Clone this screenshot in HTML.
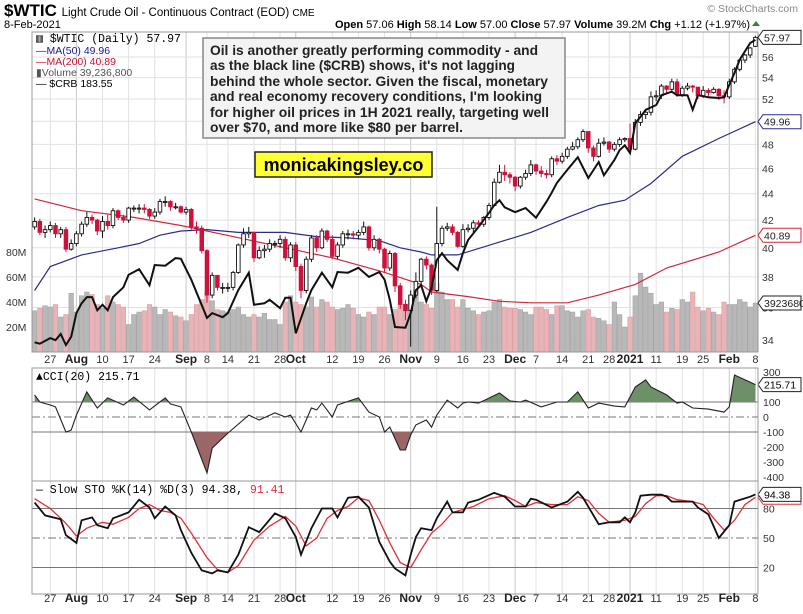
<!DOCTYPE html>
<html><head><meta charset="utf-8"><style>
html,body{margin:0;padding:0;background:#fff;}
svg{display:block;font-family:"Liberation Sans",Arial,sans-serif;}
</style></head><body>
<svg id="chart" width="803" height="614" viewBox="0 0 803 614" xmlns="http://www.w3.org/2000/svg">
<defs>
<clipPath id="mainClip"><rect x="32" y="32" width="726" height="320"/></clipPath>
<clipPath id="cciUp"><rect x="32" y="368" width="726" height="34"/></clipPath>
<clipPath id="cciDn"><rect x="32" y="432" width="726" height="49"/></clipPath>
</defs>
<g id="grid"></g>
<g id="vol" clip-path="url(#mainClip)"></g>
<g id="ma" clip-path="url(#mainClip)"></g>
<g id="candles" clip-path="url(#mainClip)"></g>
<g id="crb" clip-path="url(#mainClip)"></g>
<g id="cci"></g>
<g id="sto"></g>
<g id="axes"></g>
<g id="static">
<text x="4" y="16" font-size="17" font-weight="bold">$WTIC <tspan font-size="11.5" font-weight="normal">Light Crude Oil - Continuous Contract (EOD) </tspan><tspan font-size="10" font-weight="normal">CME</tspan></text>
<text x="4" y="28" font-size="11">8-Feb-2021</text>
<text x="798" y="12" font-size="10.5" fill="#888" text-anchor="end">© StockCharts.com</text>
<text x="750" y="28" font-size="11" text-anchor="end"><tspan font-weight="bold">Open</tspan> 57.06 <tspan font-weight="bold">High</tspan> 58.14 <tspan font-weight="bold">Low</tspan> 57.00 <tspan font-weight="bold">Close</tspan> 57.97 <tspan font-weight="bold">Volume</tspan> 39.2M <tspan font-weight="bold">Chg</tspan> +1.12 (+1.97%)</text>
<path d="M752 26 l4 -5 l4 5z" fill="#2a8a2a"/>
<g font-size="11">
<text x="36" y="42" font-family="Liberation Mono,monospace" font-size="11.5">▥ $WTIC (Daily) 57.97</text>
<text x="36" y="54" fill="#1a1a8c" font-size="10.5">—MA(50) 49.96</text>
<text x="36" y="65" fill="#cc1133" font-size="10.5">—MA(200) 40.89</text>
<text x="36" y="76" fill="#555" font-size="10.5">▮Volume 39,236,800</text>
<text x="36" y="87" font-size="10.5">— $CRB 183.55</text>
</g>
<rect x="203" y="38" width="362" height="100" fill="#f3f3f3" stroke="#888" stroke-width="1.5"/>
<g font-size="13.5" font-weight="bold" fill="#222">
<text x="210" y="55" textLength="328" lengthAdjust="spacingAndGlyphs">Oil is another greatly performing commodity - and</text>
<text x="210" y="70" textLength="305" lengthAdjust="spacingAndGlyphs">as the black line ($CRB) shows, it's not lagging</text>
<text x="210" y="86" textLength="338" lengthAdjust="spacingAndGlyphs">behind the whole sector. Given the fiscal, monetary</text>
<text x="210" y="101" textLength="332" lengthAdjust="spacingAndGlyphs">and real economy recovery conditions, I'm looking</text>
<text x="210" y="117" textLength="339" lengthAdjust="spacingAndGlyphs">for higher oil prices in 1H 2021 really, targeting well</text>
<text x="210" y="132" textLength="253" lengthAdjust="spacingAndGlyphs">over $70, and more like $80 per barrel.</text>
</g>
<rect x="255" y="152" width="177" height="25" fill="#ffff33" stroke="#222" stroke-width="1.5"/>
<text x="343.5" y="171" font-size="18" font-weight="bold" text-anchor="middle">monicakingsley.co</text>
</g>
</svg>
<script>
const dayCount = 139;
const opens = [41.5,41.9,41.1,41.3,41.6,41.0,41.3,39.9,
40.3,41.0,41.7,42.2,42.0,41.2,41.9,41.6,42.7,42.2,42.0,42.9,42.9,42.9,42.8,42.3,42.6,43.4,43.4,43.0,43.0,
42.6,42.8,41.5,41.4,39.8,36.8,38.1,37.3,37.3,37.3,38.3,40.2,41.0,41.1,39.3,39.8,39.9,40.3,40.3,40.6,39.3,
40.2,38.7,37.1,39.2,40.7,40.0,41.2,40.6,39.4,40.2,41.0,41.0,40.9,41.1,41.5,40.0,40.6,39.9,38.6,39.6,37.4,36.2,
35.8,36.8,37.7,39.2,38.8,37.1,40.3,41.4,41.5,41.1,40.1,41.3,41.4,41.8,41.7,42.2,43.1,44.9,45.7,45.5,
45.3,44.6,45.3,45.6,46.3,45.8,45.6,45.5,46.8,46.6,47.0,47.6,47.8,48.4,49.1,47.7,47.0,48.1,48.2,47.6,48.0,48.4,
48.5,47.6,49.9,50.6,50.8,52.2,52.3,53.2,52.9,53.6,52.4,53.0,53.2,53.1,52.3,52.8,52.6,52.9,52.3,
52.2,53.6,54.8,55.7,56.2,57.06];
const closes = [41.9,41.1,41.3,41.6,41.0,41.3,39.9,40.3,
41.0,41.7,42.2,42.0,41.2,41.9,41.6,42.7,42.2,42.0,42.9,42.9,42.9,42.8,42.3,42.6,43.4,43.4,43.0,43.0,42.6,
42.8,41.5,41.4,39.8,36.8,38.1,37.3,37.3,37.3,38.3,40.2,41.0,41.1,39.3,39.8,39.9,40.3,40.3,40.6,39.3,40.2,
38.7,37.1,39.2,40.7,40.0,41.2,40.6,39.4,40.2,41.0,41.0,40.9,41.1,41.5,40.0,40.6,39.9,38.6,39.6,37.4,36.2,35.8,
36.8,37.7,39.2,38.8,37.1,40.3,41.4,41.5,41.1,40.1,41.3,41.4,41.8,41.7,42.2,43.1,44.9,45.7,45.5,45.3,
44.6,45.3,45.6,46.3,45.8,45.6,45.5,46.8,46.6,47.0,47.6,47.8,48.4,49.1,47.7,47.0,48.1,48.2,47.6,48.0,48.4,48.5,
47.6,49.9,50.6,50.8,52.2,52.3,53.2,52.9,53.6,52.4,53.0,53.2,53.1,52.3,52.8,52.6,52.9,52.3,52.2,
53.6,54.8,55.7,56.2,56.9,57.97];
const highs = [42.2,42.1,41.6,41.9,41.8,41.5,41.5,40.6,
41.2,41.9,42.6,42.4,42.1,42.3,42.4,42.9,42.8,42.4,43.0,43.1,43.2,43.2,42.9,42.9,43.6,43.8,43.5,43.3,43.1,
43.0,42.9,41.9,41.6,39.9,38.3,37.9,37.6,37.6,38.4,40.3,41.4,41.5,41.1,40.1,40.2,40.6,40.5,40.9,40.8,40.4,
40.4,38.9,39.4,40.9,40.9,41.4,41.3,40.9,40.4,41.2,41.3,41.2,41.3,41.9,41.6,40.9,40.7,40.0,39.8,39.7,37.6,36.5,
37.1,38.3,39.3,39.4,38.9,43.0,41.6,41.8,41.7,41.2,41.7,41.7,42.0,42.0,42.3,43.3,45.2,46.3,46.3,45.7,
45.4,45.4,45.9,46.7,46.4,46.2,45.9,47.0,47.1,47.3,47.8,48.2,48.6,49.3,48.6,47.9,48.5,48.6,48.3,48.2,48.6,48.6,
49.8,50.2,50.9,51.0,52.7,52.8,53.4,53.3,53.9,53.9,53.2,53.5,53.3,53.1,53.2,53.0,53.1,53.0,52.8,
53.9,55.0,55.8,56.3,57.0,58.14];
const lows = [41.3,40.9,40.7,41.1,40.7,40.7,39.7,39.8,
40.1,40.8,41.5,41.7,40.9,40.7,41.3,41.4,42.0,41.8,41.8,42.6,42.5,42.5,42.1,42.1,42.4,43.0,42.7,42.8,42.5,
42.4,41.3,41.0,39.6,36.3,36.6,37.1,36.9,37.0,37.1,38.2,40.0,40.7,39.0,39.2,39.3,39.7,40.0,40.0,39.1,39.0,
38.4,36.6,36.9,39.0,39.7,39.9,40.4,39.2,39.2,40.0,40.6,40.6,40.6,40.9,39.8,39.8,39.6,38.3,38.4,37.0,35.9,35.2,
33.6,36.6,37.4,38.5,36.8,37.0,40.1,41.2,40.9,40.0,40.0,41.1,41.1,41.5,41.5,42.0,43.0,44.8,45.0,44.8,
44.2,44.4,45.1,45.4,45.5,45.3,45.2,45.3,46.3,46.4,46.8,47.5,47.6,48.2,47.3,46.6,46.9,47.9,47.3,47.4,47.8,48.2,
47.2,47.5,49.6,50.2,50.5,51.8,52.0,52.6,52.6,52.2,52.2,52.8,52.6,52.0,52.1,52.2,52.5,51.9,51.6,
52.0,53.4,54.6,55.4,55.9,57.0];
const volumes = [33,35,37,36,38,28,30,47,
32,45,48,46,38,35,45,40,38,36,22,30,32,33,38,36,30,34,32,29,28,
25,30,38,42,48,41,34,33,32,34,36,30,28,30,28,31,26,26,22,40,45,
40,38,36,44,36,42,40,36,34,35,38,35,30,28,32,30,36,36,30,34,38,38,
45,50,40,38,35,55,48,42,42,36,42,35,33,30,32,33,40,42,36,35,
35,34,32,30,36,36,34,30,37,37,33,32,28,33,34,28,27,25,22,40,30,20,
28,45,63,52,47,38,40,32,35,34,42,40,48,36,33,35,32,30,40,
38,38,42,40,36,39.2];
const crbDays = [0,1,3,4,5,6,7,8,9,10,11,12,13,14,15,17,18,20,22,23,25,27,28,30,33,34,36,37,39,41,42,44,45,47,48,49,50,52,53,55,57,58,60,62,64,66,67,68,69,71,72,73,74,75,76,77,78,79,81,82,83,85,87,88,89,90,92,93,94,96,98,99,100,102,104,106,108,109,111,112,113,114,115,116,117,119,120,122,123,125,126,127,129,131,132,133,134,135,137,138];
const crbValues = [140.1,139.9,140.7,140.4,141.3,139.7,140.9,144.3,145.7,146.6,146.6,144.7,145.5,144.7,146.6,148.0,149.8,150.6,148.3,151.2,151.1,152.2,152.1,149.1,143.6,144.3,143.7,144.3,147.6,150.1,145.5,145.7,146.2,145.0,146.5,146.5,141.4,145.7,147.6,150.1,148.0,150.2,150.1,150.8,149.5,150.2,149.1,146.2,142.3,142.2,144.3,147.6,148.3,146.0,148.0,151.9,152.9,151.9,150.5,152.9,154.8,156.7,158.7,159.8,160.5,159.5,158.8,159.1,159.4,158.0,160.3,161.6,163.0,164.9,166.7,163.7,166.0,164.1,166.3,167.7,168.4,167.3,171.6,172.5,173.5,174.2,175.6,176.1,175.6,175.6,173.5,175.6,175.3,175.2,175.3,177.1,178.8,180.7,183.1,183.55];
const ma50Days = [0,3,9,16,20,24,28,33,39,48,54,60,66,70,74,76,81,89,95,102,108,113,118,124,131,138];
const ma50Values = [37.1,38.7,39.5,40.0,40.3,40.9,41.2,41.3,41.1,41.1,40.8,40.7,40.5,40.0,39.7,39.5,39.5,40.4,41.1,42.2,43.1,43.5,44.8,47.0,48.5,49.96];
const ma200Days = [0,9,19,28,38,48,57,67,74,76,83,89,95,102,108,115,121,131,138];
const ma200Values = [43.6,42.7,42.2,41.6,40.8,40.0,39.3,38.3,37.5,37.0,36.7,36.4,36.3,36.3,36.8,37.5,38.6,39.7,40.89];
const cciDays = [0,1,3,4,6,7,8,10,12,14,17,19,22,25,26,28,30,33,34,37,41,43,46,48,49,51,53,54,55,57,58,62,64,66,67,68,70,71,72,73,75,76,77,79,81,82,83,85,89,91,93,94,97,100,102,104,106,108,111,113,115,117,118,121,123,124,126,129,132,133,134,138];
const cciValues = [147,100,80,67,-100,-87,13,167,60,127,80,133,47,127,87,67,-100,-373,-207,-107,13,-20,27,0,13,-100,60,47,93,0,80,127,33,0,-100,-67,-220,-220,-120,-53,-20,-67,13,113,60,93,100,93,160,107,100,113,67,100,100,167,60,93,73,67,200,247,200,147,93,100,60,53,33,67,280,215.71];
const kDays = [0,2,5,6,8,9,11,12,14,15,18,20,22,23,25,27,28,30,32,34,35,37,39,41,43,46,48,50,51,53,55,57,58,60,62,64,66,68,69,71,72,73,74,76,77,79,80,82,83,85,88,90,92,94,95,96,99,102,104,105,107,108,110,112,113,114,115,116,118,120,121,122,124,126,127,129,131,133,134,137,138];
const kValues = [86,73,69,53,45,68,71,63,60,70,76,89,81,70,82,73,58,35,17,14,17,15,33,61,56,75,70,51,33,60,80,80,71,91,92,81,46,26,19,12,33,51,60,58,70,87,76,76,86,89,96,92,82,82,90,89,81,87,97,91,73,64,66,66,71,66,76,93,94,94,92,87,87,87,81,74,50,63,87,92,94.38];
const dDays = [0,3,6,8,10,13,15,18,20,22,24,26,28,30,33,35,37,39,42,45,48,50,52,54,56,58,60,62,64,66,68,70,72,74,76,78,80,82,84,87,90,92,94,96,99,102,104,106,108,110,113,115,117,119,121,123,126,128,130,132,134,136,138];
const dValues = [90,80,65,52,60,66,64,71,80,84,78,76,70,55,30,18,15,22,48,62,72,62,42,50,70,78,82,91,88,68,45,25,20,38,55,64,76,79,82,90,93,88,82,86,84,84,92,88,75,66,68,72,85,93,93,89,87,84,70,58,68,84,91.41];
const tickDays = [3,8,13,18,23,29,33,37,42,47,50,57,62,67,72,77,82,87,92,96,101,106,110,114,119,124,128,133,138];
const tickLabels = ["27","Aug","10","17","24","Sep","8","14","21","28","Oct","12","19","26","Nov","9","16","23","Dec","7","14","21","28","2021","11","19","25","Feb","8"];
const tickBold = ["Aug","Sep","Oct","Nov","Dec","2021","Feb"];
const priceTicks = [34,36,38,40,42,44,46,48,50,52,54,56];
const volTicks = [20,40,60,80];
const cciTicks = [300,100,0,-100,-200,-300,-400];
const stoTicks = [80,50,20];

const NS = "http://www.w3.org/2000/svg";
const L = 32, R = 758, W = R - L;
const bw = W / dayCount;
function xAt(i){ return L + (i + 0.5) * bw; }
function yPrice(p){ return 57 + (Math.log(56) - Math.log(p)) * 567; }
function yVol(v){ return 352 - v * 1.25; }
function yCrb(c){ return 343 - (c - 140) * 6.96; }
function yCci(v){ return 417 - v * 0.15; }
function ySto(v){ return 538 - (v - 50) * 0.983; }
function mk(tag, attrs, parent){
  const e = document.createElementNS(NS, tag);
  for (const k in attrs) e.setAttribute(k, attrs[k]);
  parent.appendChild(e);
  return e;
}
function linePath(days, vals, yf){
  return days.map((d, j) => (j ? "L" : "M") + xAt(d).toFixed(1) + " " + yf(vals[j]).toFixed(1)).join(" ");
}
const gGrid = document.getElementById("grid");
const gAxes = document.getElementById("axes");

// panel frames
const panels = [[32,352,"price-panel"],[368,481,"cci-panel"],[481,594,"sto-panel"]];
panels.forEach(p => {
  const r = mk("rect", {x:L, y:p[0], width:W, height:p[1]-p[0], fill:"none", stroke:"#999", "stroke-width":1}, gAxes);
  
  
});
// vertical grid + date labels
tickDays.forEach((d, k) => {
  const x = xAt(d);
  const major = tickBold.includes(tickLabels[k]);
  panels.forEach(p => {
    const gl = mk("line", {x1:x, x2:x, y1:p[0], y2:p[1], stroke: major ? "#c8c8c8" : "#e2e2e2", "stroke-width":1}, gGrid);
    
    
  });
  [363, 602].forEach(yy => {
    const t = mk("text", {x:x, y:yy, "font-size": major ? 12 : 11, "font-weight": major ? "bold" : "normal", "text-anchor":"middle", fill: major ? "#222" : "#333"}, gAxes);
    t.textContent = tickLabels[k];
    
    
  });
});
// price grid + labels
priceTicks.forEach(p => {
  const y = yPrice(p);
  const gl = mk("line", {x1:L, x2:R, y1:y, y2:y, stroke:"#e2e2e2"}, gGrid);
  
  
  const t = mk("text", {x:762, y:y+4, "font-size":10.5, fill:"#333"}, gAxes);
  t.textContent = p;
  
  
});
volTicks.forEach(v => {
  const t = mk("text", {x:6, y:yVol(v)+4, "font-size":10.5, fill:"#333"}, gAxes);
  t.textContent = v + "M";
  
  
});
// volume bars
const gVol = document.getElementById("vol");
volumes.forEach((v, i) => {
  const down = i > 0 ? closes[i] < closes[i-1] : closes[i] < opens[i];
  const b = mk("rect", {x:xAt(i)-bw/2+0.3, y:yVol(v), width:bw-0.6, height:352-yVol(v), fill: down ? "#e8b4b8" : "#b8b8b8", stroke: down ? "#d99aa0" : "#a0a0a0", "stroke-width":0.5}, gVol);
  
  
});
// moving averages
const gMa = document.getElementById("ma");
const m50 = mk("path", {d:linePath(ma50Days, ma50Values, yPrice), fill:"none", stroke:"#2b2b8f", "stroke-width":1.2}, gMa);


const m200 = mk("path", {d:linePath(ma200Days, ma200Values, yPrice), fill:"none", stroke:"#d0283c", "stroke-width":1.2}, gMa);


// candles
const gC = document.getElementById("candles");
closes.forEach((c, i) => {
  const o = opens[i];
  const down = i > 0 ? c < closes[i-1] : c < o;
  const col = down ? "#d0103a" : "#111";
  const x = xAt(i);
  const wk = mk("line", {x1:x, x2:x, y1:yPrice(highs[i]), y2:yPrice(lows[i]), stroke:col, "stroke-width":1}, gC);
  
  
  const top = yPrice(Math.max(o, c)), bot = yPrice(Math.min(o, c));
  const body = mk("rect", {x:x-1.8, y:top, width:3.6, height:Math.max(1, bot-top), fill: c >= o ? "#fff" : col, stroke:col, "stroke-width":0.9}, gC);
  
  
});
// CRB line
const crbLine = mk("path", {d:linePath(crbDays, crbValues, yCrb), fill:"none", stroke:"#111", "stroke-width":2}, document.getElementById("crb"));


// right value tags
function tag(y, txt, col, name){
  const g = mk("g", {}, gAxes);
  
  
  mk("path", {d:`M758 ${y} l5 -7 h38 v14 h-38 z`, fill:"#fff", stroke:col, "stroke-width":1}, g);
  const t = mk("text", {x:764, y:y+4, "font-size":10.5, fill:"#222"}, g);
  t.textContent = txt;
}
tag(yPrice(closes[dayCount-1]), closes[dayCount-1].toFixed(2), "#222", "last-price-tag");
tag(yPrice(ma50Values[ma50Values.length-1]), ma50Values[ma50Values.length-1].toFixed(2), "#2b2b8f", "ma50-tag");
tag(yPrice(ma200Values[ma200Values.length-1]), ma200Values[ma200Values.length-1].toFixed(2), "#d0283c", "ma200-tag");
tag(yVol(volumes[dayCount-1]), "39236800", "#222", "volume-tag");

// CCI panel
const gCci = document.getElementById("cci");
[[100,"solid"],[0,"dash"],[-100,"solid"]].forEach(l => {
  const y = yCci(l[0]);
  const ln = mk("line", {x1:L, x2:R, y1:y, y2:y, stroke:"#777", "stroke-width":1, "stroke-dasharray": l[1]==="dash" ? "8 3 2 3" : "none"}, gCci);
  
  
});
const cciD = linePath(cciDays, cciValues, yCci);
const x0 = xAt(cciDays[0]), x1 = xAt(cciDays[cciDays.length-1]);
const up = mk("path", {d: cciD + ` L${x1} ${yCci(100)} L${x0} ${yCci(100)} Z`, fill:"#6e9068", "clip-path":"url(#cciUp)"}, gCci);


const dn = mk("path", {d: cciD + ` L${x1} ${yCci(-100)} L${x0} ${yCci(-100)} Z`, fill:"#9a6666", "clip-path":"url(#cciDn)"}, gCci);


const cl = mk("path", {d:cciD, fill:"none", stroke:"#222", "stroke-width":1.1}, gCci);


cciTicks.forEach(v => {
  const t = mk("text", {x:763, y:yCci(v)+4, "font-size":10.5, fill:"#333"}, gCci);
  t.textContent = v;
  
  
});
const cciTag = mk("g", {}, gCci);


mk("path", {d:`M758 ${yCci(cciValues[cciValues.length-1])} l5 -7 h38 v14 h-38 z`, fill:"#fff", stroke:"#222"}, cciTag);
const ct = mk("text", {x:764, y:yCci(cciValues[cciValues.length-1])+4, "font-size":10.5}, cciTag);
ct.textContent = cciValues[cciValues.length-1].toFixed(2);
const cleg = mk("text", {x:36, y:380, "font-size":11.5, "font-family":"Liberation Mono,monospace"}, gCci);
cleg.textContent = "▲CCI(20) 215.71";



// STO panel
const gSto = document.getElementById("sto");
[[80,"solid"],[50,"dash"],[20,"solid"]].forEach(l => {
  const y = ySto(l[0]);
  const ln = mk("line", {x1:L, x2:R, y1:y, y2:y, stroke:"#777", "stroke-width":1, "stroke-dasharray": l[1]==="dash" ? "8 3 2 3" : "none"}, gSto);
  
  
});
const dl = mk("path", {d:linePath(dDays, dValues, ySto), fill:"none", stroke:"#e0303c", "stroke-width":1.3}, gSto);


const kl = mk("path", {d:linePath(kDays, kValues, ySto), fill:"none", stroke:"#111", "stroke-width":1.8}, gSto);


stoTicks.forEach(v => {
  const t = mk("text", {x:763, y:ySto(v)+4, "font-size":10.5, fill:"#333"}, gSto);
  t.textContent = v;
  
  
});
const stTag = mk("g", {}, gSto);


mk("path", {d:`M758 ${ySto(dValues[dValues.length-1])} l5 -7 h38 v14 h-38 z`, fill:"#fff", stroke:"#e0303c"}, stTag);
mk("path", {d:`M758 ${ySto(kValues[kValues.length-1])} l5 -7 h38 v14 h-38 z`, fill:"#fff", stroke:"#222"}, stTag);
const stt = mk("text", {x:764, y:ySto(kValues[kValues.length-1])+4, "font-size":10.5}, stTag);
stt.textContent = kValues[kValues.length-1].toFixed(2);
const sleg = mk("text", {x:36, y:493, "font-size":11.5, "font-family":"Liberation Mono,monospace"}, gSto);


sleg.innerHTML = '— Slow STO %K(14) %D(3) 94.38, <tspan fill="#e0303c">91.41</tspan>';
</script>
</body></html>
